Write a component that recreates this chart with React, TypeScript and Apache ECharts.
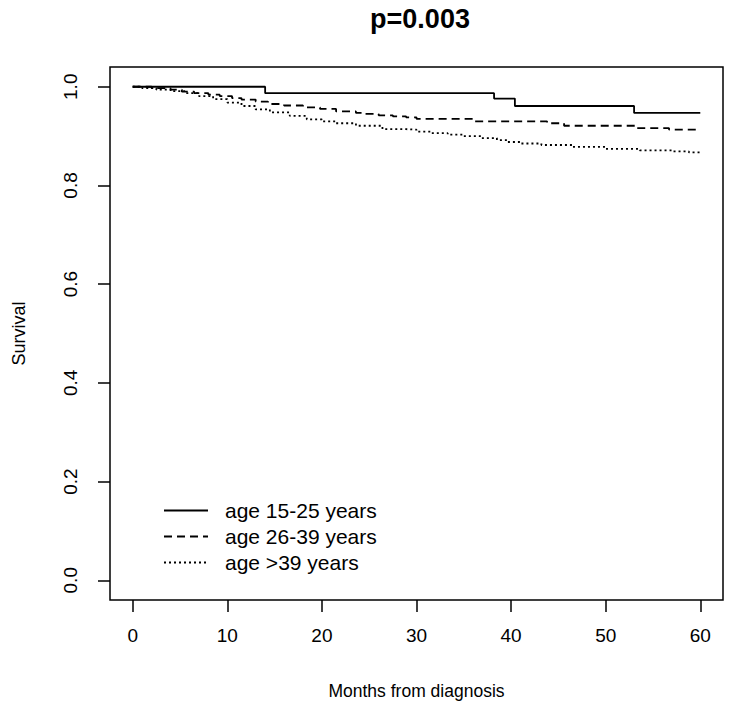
import React, { useEffect, useRef } from "react";
import * as echarts from "echarts";

const titleText = "p=0.003";
const xTicks = [0, 10, 20, 30, 40, 50, 60];
const yTicks = [0, 0.2, 0.4, 0.6, 0.8, 1.0];
const seriesNames = ["age 15-25 years", "age 26-39 years", "age >39 years"];

const youngTimes = [0, 14, 38.2, 40.4, 53, 60];
const youngSurv = [1.0, 0.987, 0.976, 0.961, 0.947, 0.947];

const midTimes = [0, 2, 4, 5.2, 6.5, 8, 9.2, 10.5, 11.5, 13, 14.3, 16, 18, 19.8, 21.5, 23.6, 24.3, 26, 27.5, 28.9, 30, 36.1, 43.8, 45.6, 53.2, 56.7, 60];
const midSurv = [1.0, 0.997, 0.994, 0.99, 0.987, 0.984, 0.981, 0.977, 0.974, 0.97, 0.965, 0.962, 0.958, 0.955, 0.95, 0.947, 0.945, 0.942, 0.94, 0.938, 0.935, 0.93, 0.926, 0.921, 0.916, 0.913, 0.913];

const oldTimes = [0, 1, 2.5, 4, 5.5, 7, 8.5, 10, 11.5, 13, 14.5, 16.6, 18.4, 20, 21.5, 23.6, 26.4, 28.9, 30, 31.5, 33.3, 35, 36.9, 38.5, 39.6, 41, 43.2, 46.5, 50, 53.6, 57, 58.8, 60];
const oldSurv = [1.0, 0.997, 0.994, 0.991, 0.987, 0.981, 0.975, 0.968, 0.961, 0.954, 0.948, 0.941, 0.934, 0.93, 0.926, 0.921, 0.914, 0.913, 0.909, 0.906, 0.903, 0.9, 0.896, 0.892, 0.888, 0.885, 0.882, 0.878, 0.874, 0.871, 0.869, 0.867, 0.866];

const pairs = (t: number[], s: number[]) => t.map((v, i) => [v, s[i]]);

export default function App() {
  const ref = useRef<HTMLDivElement>(null);
  useEffect(() => {
    if (!ref.current) return;
    const chart = echarts.init(ref.current, null, { renderer: "svg" });
    const font = "Liberation Sans, Arial, sans-serif";
    const lineTypes: any[] = ["solid", [8, 5], [2, 3]];
    const datasets = [pairs(youngTimes, youngSurv), pairs(midTimes, midSurv), pairs(oldTimes, oldSurv)];
    chart.setOption({
      animation: false,
      backgroundColor: "#fff",
      title: {
        text: titleText,
        left: 415,
        textAlign: "center",
        top: 0,
        textStyle: { fontFamily: font, fontSize: 27, fontWeight: "bold", color: "#000" },
      },
      grid: {
        left: 110,
        right: 8,
        top: 67,
        bottom: 112,
        show: true,
        borderColor: "#000",
        borderWidth: 1.5,
        backgroundColor: "transparent",
      },
      legend: {
        orient: "vertical",
        left: 158,
        top: 495,
        itemWidth: 44,
        itemHeight: 20,
        itemGap: 5,
        data: seriesNames,
        itemStyle: { opacity: 0 },
        textStyle: { fontFamily: font, fontSize: 21, color: "#000", padding: [0, 0, 0, 12], lineHeight: 20 },
      },
      xAxis: {
        type: "value",
        min: -2.4,
        max: 62.4,
        name: "Months from diagnosis",
        nameLocation: "middle",
        nameGap: 82,
        nameTextStyle: { fontFamily: font, fontSize: 17.5, color: "#000" },
        axisLine: { show: false, onZero: false },
        splitLine: { show: false },
        axisTick: { show: true, length: 12, inside: false, customValues: xTicks, lineStyle: { color: "#000", width: 1.5 } },
        axisLabel: { customValues: xTicks, margin: 26, fontFamily: font, fontSize: 19, color: "#000" },
      },
      yAxis: {
        type: "value",
        min: -0.04,
        max: 1.04,
        name: "Survival",
        nameLocation: "middle",
        nameGap: 82,
        nameTextStyle: { fontFamily: font, fontSize: 18, color: "#000" },
        axisLine: { show: false, onZero: false },
        splitLine: { show: false },
        axisTick: { show: true, length: 12, inside: false, customValues: yTicks, lineStyle: { color: "#000", width: 1.5 } },
        axisLabel: {
          customValues: yTicks,
          rotate: 90,
          margin: 30,
          fontFamily: font,
          fontSize: 19,
          color: "#000",
          formatter: (v: number) => v.toFixed(1),
        },
      },
      series: seriesNames.map((name, i) => ({
        name,
        type: "line",
        step: "end",
        symbol: "none",
        data: datasets[i],
        lineStyle: { color: "#000", width: 1.8, type: lineTypes[i] },
        itemStyle: { color: "#000" },
      })),
    });
    return () => chart.dispose();
  }, []);
  return <div ref={ref} style={{ position: "absolute", left: 0, top: 0, width: 731, height: 712 }} />;
}
